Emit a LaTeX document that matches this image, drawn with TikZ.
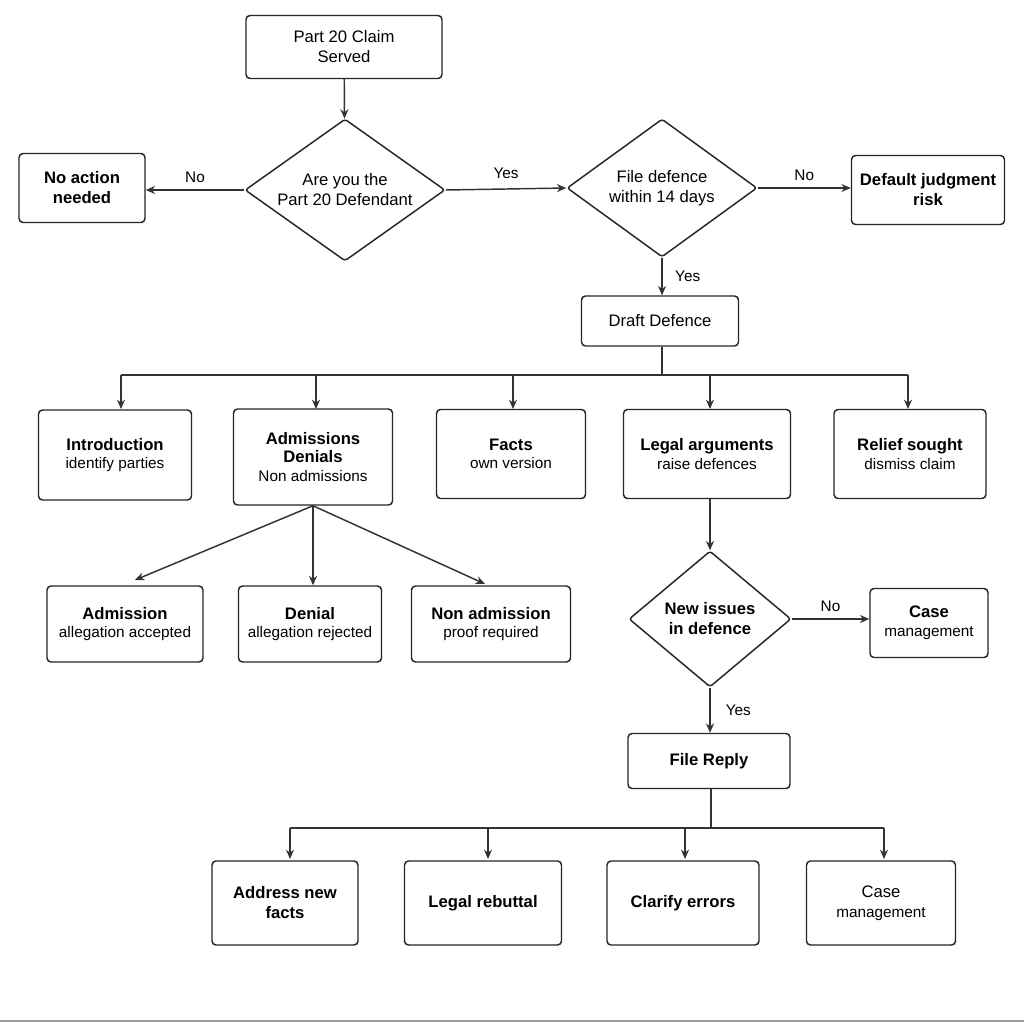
\documentclass[tikz,border=0pt]{standalone}
\usepackage{fontspec}
\setmainfont{Liberation Sans}
\usetikzlibrary{shapes.geometric,arrows.meta}
\begin{document}
\begin{tikzpicture}[x=0.75pt,y=-0.75pt,
  box/.style={draw=black!85,line width=1.1pt,rounded corners=3pt,align=center,inner sep=2pt,font=\fontsize{12.5}{15}\selectfont},
  dia/.style={draw=black!85,line width=1.1pt,diamond,aspect=1,inner sep=0pt,rounded corners=2pt},
  dtext/.style={align=center,font=\fontsize{12.5}{15}\selectfont},
  arr/.style={draw=black!80,line width=1.1pt,-{Stealth[length=7pt,width=6pt]}},
  ln/.style={draw=black!80,line width=1.1pt},
  lab/.style={font=\fontsize{11.5}{13}\selectfont}]
\useasboundingbox (0,0) rectangle (1024,1024);
\fill[white] (0,0) rectangle (1024,1024);
\draw[black!40,line width=1pt] (0,1021) -- (1024,1021);
\newcommand{\tl}[2]{\textbf{#1}\\[-1pt]{\fontsize{11.5}{14}\selectfont #2}}
\node[box,minimum width=196*0.75pt,minimum height=63*0.75pt] (start) at (344,47) {Part 20 Claim\\Served};
\node[dia,minimum width=200*0.75pt,minimum height=142*0.75pt,label={[dtext]center:Are you the\\Part 20 Defendant}] (d1) at (345,190) {};
\node[box,minimum width=126*0.75pt,minimum height=69*0.75pt] (noact) at (82,188) {\textbf{No action}\\\textbf{needed}};
\node[dia,minimum width=190*0.75pt,minimum height=138*0.75pt,label={[dtext]center:File defence\\within 14 days}] (d2) at (662,188) {};
\node[box,minimum width=153*0.75pt,minimum height=69*0.75pt] (def) at (928,190) {\textbf{Default judgment}\\\textbf{risk}};
\node[box,minimum width=157*0.75pt,minimum height=50*0.75pt] (draft) at (660,321) {Draft Defence};
\node[box,minimum width=153*0.75pt,minimum height=90*0.75pt] (intro) at (115,455) {\tl{Introduction}{identify parties}};
\node[box,minimum width=159*0.75pt,minimum height=96*0.75pt] (adm) at (313,457) {\textbf{Admissions}\\[-1pt]\textbf{Denials}\\[-1pt]{\fontsize{11.5}{14}\selectfont Non admissions}};
\node[box,minimum width=149*0.75pt,minimum height=89*0.75pt] (facts) at (511,454) {\tl{Facts}{own version}};
\node[box,minimum width=167*0.75pt,minimum height=89*0.75pt] (legal) at (707,454) {\tl{Legal arguments}{raise defences}};
\node[box,minimum width=152*0.75pt,minimum height=89*0.75pt] (relief) at (910,454) {\tl{Relief sought}{dismiss claim}};
\node[box,minimum width=156*0.75pt,minimum height=76*0.75pt] (a1) at (125,624) {\tl{Admission}{allegation accepted}};
\node[box,minimum width=143*0.75pt,minimum height=76*0.75pt] (a2) at (310,624) {\tl{Denial}{allegation rejected}};
\node[box,minimum width=159*0.75pt,minimum height=76*0.75pt] (a3) at (491,624) {\tl{Non admission}{proof required}};
\node[dia,minimum width=162*0.75pt,minimum height=136*0.75pt,label={[dtext]center:\textbf{New issues}\\\textbf{in defence}}] (d3) at (710,619) {};
\node[box,minimum width=118*0.75pt,minimum height=69*0.75pt] (cm1) at (929,623) {\tl{Case}{management}};
\node[box,minimum width=162*0.75pt,minimum height=55*0.75pt] (reply) at (709,761) {\textbf{File Reply}};
\node[box,minimum width=146*0.75pt,minimum height=84*0.75pt] (b1) at (285,903) {\textbf{Address new}\\\textbf{facts}};
\node[box,minimum width=157*0.75pt,minimum height=84*0.75pt] (b2) at (483,903) {\textbf{Legal rebuttal}};
\node[box,minimum width=152*0.75pt,minimum height=84*0.75pt] (b3) at (683,903) {\textbf{Clarify errors}};
\node[box,minimum width=149*0.75pt,minimum height=84*0.75pt] (b4) at (881,903) {Case\\{\fontsize{11.5}{14}\selectfont management}};
\coordinate (bus1) at (662,375);
\coordinate (bus2) at (711,828);
\draw[arr] (start) -- (d1);
\draw[arr] (d1.west) -- (noact.east |- d1.west) node[lab,midway,above=2pt] {No};
\draw[arr] (d1.east) -- (d2.west) node[lab,midway,above=4pt] {Yes};
\draw[arr] (d2.east) -- (def.west |- d2.east) node[lab,midway,above=2pt] {No};
\draw[arr] (d2.south) -- (draft.north -| d2.south) node[lab,midway,right=6pt] {Yes};
\draw[ln] (draft.south -| bus1) -- (bus1);
\draw[ln] (121,375) -- (908,375);
\foreach \n/\x in {intro/121,adm/316,facts/513,legal/710,relief/908}
  \draw[arr] (\x,375) -- (\x,409);
\draw[arr] (adm.south) -- (135,580);
\draw[arr] (adm.south) -- (a2.north -| adm.south);
\draw[arr] (adm.south) -- (485,584);
\draw[arr] (legal.south -| d3.north) -- (d3.north);
\draw[arr] (d3.east) -- (cm1.west |- d3.east) node[lab,midway,above=2pt] {No};
\draw[arr] (d3.south) -- (reply.north -| d3.south) node[lab,midway,right=8pt] {Yes};
\draw[ln] (reply.south -| bus2) -- (bus2);
\draw[ln] (290,828) -- (884,828);
\foreach \n/\x in {b1/290,b2/488,b3/685,b4/884}
  \draw[arr] (\x,828) -- (\x,859);
\end{tikzpicture}
\end{document}
